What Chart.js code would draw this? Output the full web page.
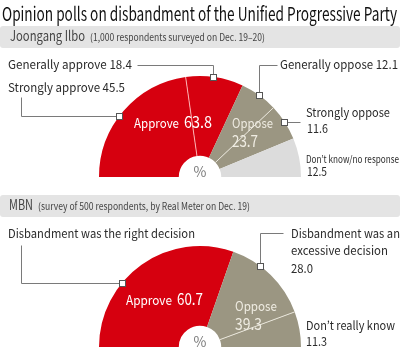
<!DOCTYPE html>
<html>
<head>
<meta charset="utf-8">
<script src="https://cdn.jsdelivr.net/npm/chart.js@4"></script>
<style>
  html, body { margin:0; padding:0; background:#fff; }
  #root { position:relative; width:400px; height:350px; overflow:hidden; background:#fff; }
  canvas { position:absolute; left:0; top:0; }
  .band { position:absolute; left:0; width:400px; background:#e4e4e4; border-radius:3px; }
  .t { position:absolute; white-space:nowrap; line-height:normal; transform-origin:0 0; }
</style>
</head>
<body>
<div id="root">
  <div class="band" style="top:26px;height:22px"></div>
  <div class="band" style="top:195px;height:22px"></div>
  <canvas id="c1" width="400" height="350"></canvas>
  <canvas id="c2" width="400" height="350"></canvas>
</div>
<script>
// ---- data ----
const titleText = 'Opinion polls on disbandment of the Unified Progressive Party';
const poll1Source = 'Joongang Ilbo';
const poll1Note = '(1,000 respondents surveyed on Dec. 19\u201320)';
const poll1Labels = ['Strongly approve', 'Generally approve', 'Generally oppose', 'Strongly oppose', "Don\u2019t know/no response"];
const poll1Values = [45.5, 18.4, 12.1, 11.6, 12.5];
const poll1Groups = ['Approve', 'Approve', 'Oppose', 'Oppose', 'None'];
const poll1Totals = [63.8, 23.7];

const poll2Source = 'MBN';
const poll2Note = '(survey of 500 respondents, by Real Meter on Dec. 19)';
const poll2Labels = ['Disbandment was the right decision', 'Disbandment was an excessive decision', "Don\u2019t really know"];
const poll2Values = [60.7, 28.0, 11.3];
const poll2Groups = ['Approve', 'Oppose', 'Oppose'];
const poll2Totals = [60.7, 39.3];

// ---- styles ----
const FONT = '"Noto Sans CJK KR", "Liberation Sans", sans-serif';
const groupColor = { Approve: '#d6000f', Oppose: '#9b9682', None: '#dcdcdc' };
const dividerColor = { Approve: 'rgba(255,190,190,0.9)', Oppose: 'rgba(235,232,220,0.95)', None: '#fff' };
const f1 = v => v.toFixed(1);

const leaderPlugin = {
  id: 'leaders',
  afterDatasetsDraw(chart, args, opts) {
    const ctx = chart.ctx;
    const meta = chart.getDatasetMeta(0);
    const groups = opts.groups;
    ctx.save();
    // dividers between sub-segments of the same group
    meta.data.forEach((arc, i) => {
      if (i === 0 || groups[i] !== groups[i - 1]) return;
      const a = arc.startAngle;
      ctx.beginPath();
      ctx.strokeStyle = dividerColor[groups[i]];
      ctx.lineWidth = 1;
      ctx.moveTo(arc.x + arc.innerRadius * Math.cos(a), arc.y + arc.innerRadius * Math.sin(a));
      ctx.lineTo(arc.x + arc.outerRadius * Math.cos(a), arc.y + arc.outerRadius * Math.sin(a));
      ctx.stroke();
    });
    // leader lines + markers
    (opts.items || []).forEach(it => {
      const arc = meta.data[it.index];
      const a = arc.startAngle + it.frac * (arc.endAngle - arc.startAngle);
      const mx = Math.round(arc.x + arc.outerRadius * Math.cos(a)) + 0.5;
      const my = Math.round(arc.y + arc.outerRadius * Math.sin(a)) + 0.5;
      ctx.beginPath();
      ctx.strokeStyle = '#7a7a7a';
      ctx.lineWidth = 1;
      const fx = it.from[0] + 0.5, fy = it.from[1] + 0.5;
      if (it.mode === 'hv') { ctx.moveTo(fx, fy); ctx.lineTo(mx, fy); ctx.lineTo(mx, my); }
      else if (it.mode === 'vh') { ctx.moveTo(fx, fy); ctx.lineTo(fx, my); ctx.lineTo(mx, my); }
      else { ctx.moveTo(fx, my); ctx.lineTo(mx, my); }
      ctx.stroke();
      ctx.fillStyle = '#fff';
      ctx.strokeStyle = '#555';
      ctx.fillRect(mx - 3, my - 3, 6, 6);
      ctx.strokeRect(mx - 3, my - 3, 6, 6);
    });
    ctx.restore();
  }
};

function makeChart(id, labels, values, groups, padding, items) {
  return new Chart(document.getElementById(id), {
    type: 'doughnut',
    data: {
      labels: labels,
      datasets: [{
        data: values,
        backgroundColor: groups.map(g => groupColor[g]),
        borderWidth: 0
      }]
    },
    options: {
      responsive: false,
      animation: false,
      rotation: -90,
      circumference: 180,
      cutout: '21%',
      layout: { padding: padding },
      plugins: {
        legend: { display: false },
        tooltip: { enabled: false },
        leaders: { groups: groups, items: items }
      }
    },
    plugins: [leaderPlugin]
  });
}

makeChart('c1', poll1Labels, poll1Values, poll1Groups,
  { left: 99, right: 99, top: 76, bottom: 173 },
  [
    { index: 1, frac: 0.47, from: [137, 65], mode: 'hv' },
    { index: 0, frac: 0.45, from: [21, 97], mode: 'vh' },
    { index: 2, frac: 0.49, from: [277, 65], mode: 'hv' },
    { index: 3, frac: 0.48, from: [300, 0], mode: 'h' }
  ]);

makeChart('c2', poll2Labels, poll2Values, poll2Groups,
  { left: 99, right: 99, top: 246, bottom: 3 },
  [
    { index: 0, frac: 0.36, from: [21, 245], mode: 'vh' },
    { index: 1, frac: 0.34, from: [283, 233], mode: 'hv' }
  ]);

// ---- texts ----
const DARK = '#2b2b2b', BAND = '#444', WHITE = '#ffffff', LIGHT = '#efece2', PCT = '#7a7a7a';
const texts = [
  { t: titleText, x0: 2, x1: 397, b: 21, s: 19, c: '#111' },
  { t: poll1Source, x0: 10, x1: 85, b: 41, s: 14, c: BAND },
  { t: poll1Note, x0: 90, x1: 265, b: 41, s: 10, c: BAND },
  { t: poll1Labels[1] + ' ' + f1(poll1Values[1]), x0: 8, x1: 132, b: 69, s: 12, c: DARK },
  { t: poll1Labels[0] + ' ' + f1(poll1Values[0]), x0: 8, x1: 125, b: 92, s: 12, c: DARK },
  { t: poll1Labels[2] + ' ' + f1(poll1Values[2]), x0: 280, x1: 398, b: 69, s: 12, c: DARK },
  { t: poll1Labels[3], x0: 306, x1: 390, b: 117, s: 12, c: DARK },
  { t: f1(poll1Values[3]), x0: 307, x1: 328, b: 133, s: 12, c: DARK },
  { t: poll1Labels[4], x0: 306, x1: 399, b: 163, s: 10, c: DARK },
  { t: f1(poll1Values[4]), x0: 307, x1: 327, b: 176, s: 12, c: DARK },
  { t: 'Approve', x0: 134, x1: 179, b: 128, s: 13, c: WHITE },
  { t: f1(poll1Totals[0]), x0: 184, x1: 212, b: 128, s: 16, c: WHITE },
  { t: 'Oppose', x0: 232, x1: 273, b: 128, s: 13, c: LIGHT },
  { t: f1(poll1Totals[1]), x0: 232, x1: 258, b: 147, s: 16, c: LIGHT },
  { t: '%', cx: 200, b: 177, s: 14, c: PCT },

  { t: poll2Source, x0: 9, x1: 33, b: 210, s: 14, c: BAND },
  { t: poll2Note, x0: 38, x1: 250, b: 210, s: 10, c: BAND },
  { t: poll2Labels[0], x0: 8, x1: 195, b: 238, s: 12, c: DARK },
  { t: 'Disbandment was an', x0: 291, x1: 400, b: 238, s: 12, c: DARK },
  { t: 'excessive decision', x0: 291, x1: 388, b: 255, s: 12, c: DARK },
  { t: f1(poll2Values[1]), x0: 291, x1: 313, b: 273, s: 12, c: DARK },
  { t: poll2Labels[2], x0: 306, x1: 395, b: 330, s: 12, c: DARK },
  { t: f1(poll2Values[2]), x0: 306, x1: 327, b: 346, s: 12, c: DARK },
  { t: 'Approve', x0: 126, x1: 172, b: 305, s: 13, c: WHITE },
  { t: f1(poll2Totals[0]), x0: 177, x1: 203, b: 305, s: 16, c: WHITE },
  { t: 'Oppose', x0: 235, x1: 277, b: 311, s: 13, c: LIGHT },
  { t: f1(poll2Totals[1]), x0: 235, x1: 262, b: 330, s: 16, c: LIGHT },
  { t: '%', cx: 200, b: 347, s: 14, c: PCT }
];

const root = document.getElementById('root');
texts.forEach(o => {
  const d = document.createElement('div');
  d.className = 't';
  d.style.fontFamily = FONT;
  d.style.fontSize = o.s + 'px';
  d.style.color = o.c;
  const span = document.createElement('span');
  span.textContent = o.t;
  const m = document.createElement('span');
  m.style.cssText = 'display:inline-block;width:0;height:0;vertical-align:baseline';
  d.appendChild(span);
  d.appendChild(m);
  root.appendChild(d);
  const w = span.getBoundingClientRect().width;
  const base = m.offsetTop;
  d.style.top = (o.b - base) + 'px';
  if (o.cx !== undefined) {
    d.style.left = (o.cx - w / 2) + 'px';
  } else {
    d.style.left = o.x0 + 'px';
    d.style.transform = 'scaleX(' + ((o.x1 - o.x0) / w) + ')';
  }
});
</script>
</body>
</html>
